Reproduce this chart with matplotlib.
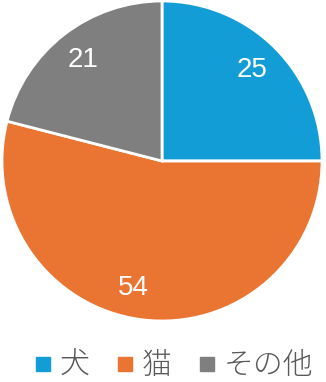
import matplotlib
matplotlib.use("Agg")
import matplotlib.pyplot as plt
from matplotlib.lines import Line2D

labels = ["犬", "猫", "その他"]
values = [25, 54, 21]
colors = ["#139dd6", "#ea7532", "#7f7f7f"]

plt.rcParams['font.family'] = ['Noto Sans CJK JP', 'DejaVu Sans']

fig = plt.figure(figsize=(3.26, 3.82), dpi=100)
ax = fig.add_axes([2/326, 61/382, 320/326, 320/382])

wedges, texts = ax.pie(values, colors=colors, startangle=90, counterclock=False,
                       labels=[str(v) for v in values], labeldistance=0.8,
                       wedgeprops=dict(edgecolor="white", linewidth=2),
                       textprops=dict(color="white", fontsize=20, family="Liberation Sans"))
for t in texts:
    t.set_ha("center")
    t.set_va("center")
# the big slice's label sits a little left of its mid angle
x, y = texts[1].get_position()
texts[1].set_position((x - 0.08, y))
ax.set_xlim(-1, 1)
ax.set_ylim(-1, 1)
ax.set_aspect("equal")

handles = [Line2D([], [], marker="s", linestyle="none", markersize=10.5,
                  markerfacecolor=c, markeredgecolor=c) for c in colors]
fig.legend(handles, labels, loc="center", bbox_to_anchor=(0.535, 16/382), ncol=3,
           frameon=False, labelcolor="#595959", handletextpad=0.3,
           columnspacing=0.95, handlelength=0.5, borderpad=0.1,
           prop=dict(weight="light", size=21.5))

fig.savefig("out.png", dpi=100)
